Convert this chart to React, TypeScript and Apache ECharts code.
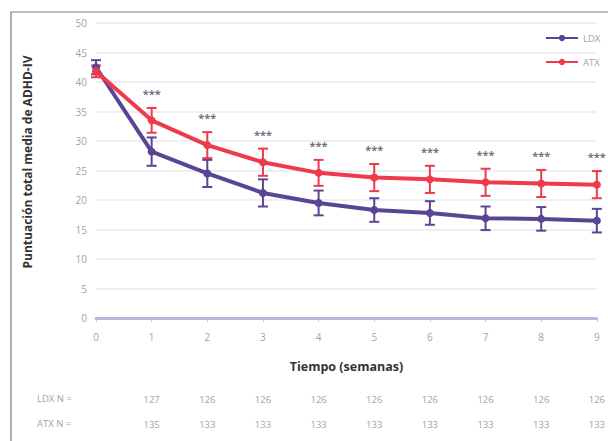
import React, { useEffect, useRef } from "react";
import * as echarts from "echarts";

const weeks = ["0", "1", "2", "3", "4", "5", "6", "7", "8", "9"];
const ldxMean = [42.5, 28.2, 24.5, 21.2, 19.5, 18.3, 17.8, 16.9, 16.8, 16.5];
const atxMean = [41.8, 33.5, 29.3, 26.4, 24.6, 23.8, 23.5, 23.0, 22.8, 22.6];
const ldxErr = [1.2, 2.4, 2.3, 2.3, 2.1, 2.0, 2.0, 2.0, 2.0, 2.0];
const atxErr = [1.0, 2.1, 2.2, 2.3, 2.2, 2.3, 2.3, 2.3, 2.3, 2.3];
const significance = ["", "***", "***", "***", "***", "***", "***", "***", "***", "***"];
const ldxN = ["", "127", "126", "126", "126", "126", "126", "126", "126", "126"];
const atxN = ["", "135", "133", "133", "133", "133", "133", "133", "133", "133"];
const yTicks = { min: 0, max: 50, interval: 5 };

const LDX_COLOR = "#5a4595";
const ATX_COLOR = "#ef3a4c";
const FONT = "Open Sans";
const LABEL_GRAY = "#a3a3a3";

function errorSeries(name: string, mean: number[], err: number[], color: string) {
  return {
    type: "custom",
    name: name + "-err",
    z: 3,
    data: mean.map((m, i) => [i, m - err[i], m + err[i]]),
    renderItem: (params: any, api: any) => {
      const x = api.value(0);
      const lo = api.coord([x, api.value(1)]);
      const hi = api.coord([x, api.value(2)]);
      const w = 5;
      const style = { stroke: color, lineWidth: 2, fill: "none" };
      return {
        type: "group",
        children: [
          { type: "line", shape: { x1: lo[0], y1: lo[1], x2: hi[0], y2: hi[1] }, style },
          { type: "line", shape: { x1: lo[0] - w, y1: lo[1], x2: lo[0] + w, y2: lo[1] }, style },
          { type: "line", shape: { x1: hi[0] - w, y1: hi[1], x2: hi[0] + w, y2: hi[1] }, style },
        ],
      };
    },
    silent: true,
  };
}

export default function App() {
  const ref = useRef<HTMLDivElement>(null);
  useEffect(() => {
    if (!ref.current) return;
    const chart = echarts.init(ref.current, null, { renderer: "svg" });
    const nAxis = (labels: string[], offset: number) => ({
      type: "category",
      data: weeks,
      boundaryGap: false,
      position: "bottom",
      offset,
      gridIndex: 0,
      axisLine: { show: false },
      axisTick: { show: false },
      splitLine: { show: false },
      axisLabel: {
        formatter: (_v: string, i: number) => labels[i],
        color: LABEL_GRAY,
        fontSize: 9.5,
        fontFamily: FONT,
        margin: 8,
      },
    });
    chart.setOption({
      animation: false,
      backgroundColor: "#ffffff",
      textStyle: { fontFamily: FONT },
      grid: { left: 96, right: 9, top: 23, bottom: 123 },
      legend: {
        data: ["LDX", "ATX"],
        orient: "vertical",
        left: 540,
        top: 28,
        itemWidth: 32,
        itemHeight: 8,
        itemGap: 14,
        textStyle: { color: LABEL_GRAY, fontSize: 9.5, fontFamily: FONT },
      },
      xAxis: [
        {
          type: "category",
          data: weeks,
          boundaryGap: false,
          name: "Tiempo (semanas)",
          nameLocation: "middle",
          nameGap: 42,
          nameTextStyle: { color: "#333333", fontSize: 12.5, fontWeight: "bold", fontFamily: FONT },
          axisLine: { lineStyle: { color: "#b9b5de", width: 3 } },
          axisTick: { show: true, length: 4, lineStyle: { color: "#c9c6e6", width: 1 } },
          axisLabel: { color: LABEL_GRAY, fontSize: 10, fontFamily: FONT, margin: 14 },
        },
        nAxis(ldxN, 68),
        nAxis(atxN, 93),
      ],
      yAxis: {
        type: "value",
        min: yTicks.min,
        max: yTicks.max,
        interval: yTicks.interval,
        axisLine: { show: false },
        axisTick: { show: false },
        axisLabel: { color: LABEL_GRAY, fontSize: 10, fontFamily: FONT, margin: 9 },
        splitLine: { lineStyle: { color: "#e9e8f4", width: 1.5 } },
      },
      graphic: [
        {
          type: "rect",
          shape: { x: 11, y: 12, width: 700, height: 500 },
          style: { fill: "none", stroke: "#7a7a7a", lineWidth: 1.2 },
          silent: true,
        },
        {
          type: "text",
          x: 27,
          y: 162,
          rotation: Math.PI / 2,
          style: {
            text: "Puntuación total media de ADHD-IV",
            fill: "#333333",
            font: "bold 12px 'Open Sans'",
            textAlign: "center",
            textVerticalAlign: "middle",
          },
        },
        {
          type: "text",
          x: 37,
          y: 398,
          style: { text: "LDX N =", fill: LABEL_GRAY, font: "9.5px 'Open Sans'", textVerticalAlign: "middle" },
        },
        {
          type: "text",
          x: 37,
          y: 423,
          style: { text: "ATX N =", fill: LABEL_GRAY, font: "9.5px 'Open Sans'", textVerticalAlign: "middle" },
        },
      ],
      series: [
        errorSeries("LDX", ldxMean, ldxErr, LDX_COLOR),
        errorSeries("ATX", atxMean, atxErr, ATX_COLOR),
        {
          name: "LDX",
          type: "line",
          data: ldxMean,
          z: 4,
          symbol: "circle",
          symbolSize: 8,
          itemStyle: { color: LDX_COLOR },
          lineStyle: { color: LDX_COLOR, width: 4 },
        },
        {
          name: "ATX",
          type: "line",
          data: atxMean,
          z: 5,
          symbol: "circle",
          symbolSize: 8,
          itemStyle: { color: ATX_COLOR },
          lineStyle: { color: ATX_COLOR, width: 4 },
        },
        {
          name: "sig",
          type: "scatter",
          data: atxMean.map((m, i) => [i, m + atxErr[i]]),
          symbolSize: 0,
          silent: true,
          label: {
            show: true,
            position: "top",
            distance: 9,
            formatter: (p: any) => significance[p.dataIndex],
            color: "#4d4d5c",
            fontSize: 11,
            fontWeight: "bold",
            fontFamily: FONT,
          },
        },
      ],
    });
    return () => chart.dispose();
  }, []);
  return (
    <div
      ref={ref}
      style={{ position: "fixed", left: 0, top: 0, width: 608, height: 441 }}
    />
  );
}
